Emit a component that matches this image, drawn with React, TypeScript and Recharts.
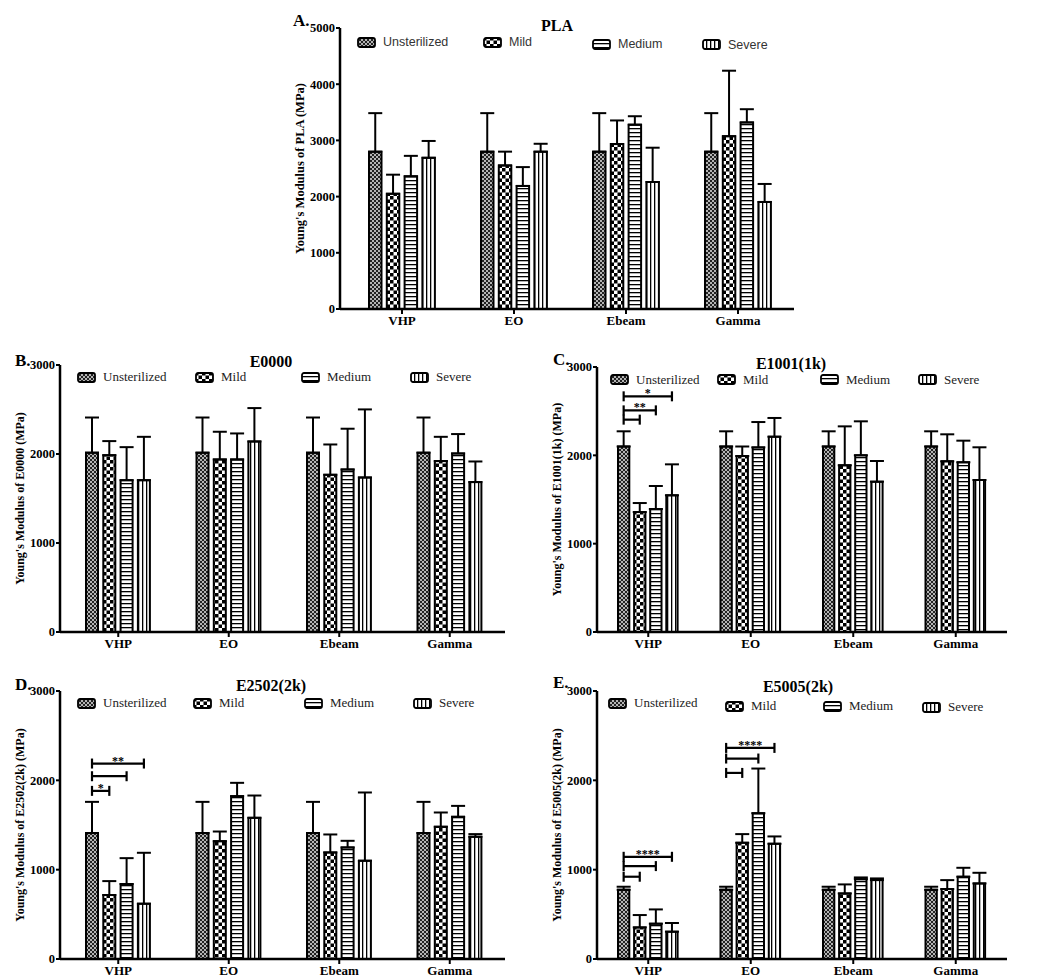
import React from "react";
import { BarChart, Bar, XAxis, YAxis, ErrorBar } from "recharts";

const CATEGORIES = ["VHP", "EO", "Ebeam", "Gamma"];
const SERIES = ["Unsterilized", "Mild", "Medium", "Severe"];
const PATTERNS = ["pat-unst", "pat-mild", "pat-med", "pat-sev"];

// mean values, one array per series (Unsterilized, Mild, Medium, Severe)
const PLA_MEANS = [
  [2800, 2800, 2800, 2800],
  [2050, 2555, 2935, 3075],
  [2360, 2190, 3280, 3320],
  [2690, 2800, 2260, 1905],
];
// upper error (SD), same order
const PLA_ERRS = [
  [685, 685, 685, 685],
  [340, 245, 420, 1165],
  [365, 335, 150, 235],
  [300, 140, 610, 320],
];

const E0000_MEANS = [
  [2015, 2015, 2015, 2015],
  [1987, 1939, 1766, 1920],
  [1706, 1939, 1826, 2006],
  [1706, 2141, 1736, 1684],
];
const E0000_ERRS = [
  [395, 395, 395, 395],
  [158, 311, 341, 273],
  [371, 292, 458, 218],
  [487, 375, 765, 232],
];

const E1001_MEANS = [
  [2100, 2100, 2100, 2100],
  [1358, 1992, 1887, 1932],
  [1392, 2090, 2000, 1921],
  [1547, 2211, 1702, 1721],
];
const E1001_ERRS = [
  [172, 172, 172, 172],
  [102, 108, 441, 306],
  [261, 287, 385, 245],
  [351, 212, 234, 370],
];

const E2502_MEANS = [
  [1410, 1410, 1410, 1410],
  [716, 1319, 1193, 1480],
  [839, 1823, 1249, 1591],
  [619, 1580, 1100, 1368],
];
const E2502_ERRS = [
  [349, 349, 349, 349],
  [156, 108, 201, 160],
  [290, 149, 74, 123],
  [570, 250, 764, 30],
];

const E5005_MEANS = [
  [775, 775, 775, 775],
  [354, 1301, 734, 783],
  [395, 1632, 894, 921],
  [306, 1290, 883, 846],
];
const E5005_ERRS = [
  [34, 34, 34, 34],
  [138, 97, 101, 100],
  [160, 500, 19, 100],
  [97, 82, 19, 119],
];

// significance brackets: category index, compared series index, height, stars
type Bracket = { cat: number; target: number; value: number; stars: string };
const E1001_BRACKETS: Bracket[] = [
  { cat: 0, target: 3, value: 2668, stars: "*" },
  { cat: 0, target: 2, value: 2509, stars: "**" },
  { cat: 0, target: 1, value: 2404, stars: "" },
];
const E2502_BRACKETS: Bracket[] = [
  { cat: 0, target: 3, value: 2188, stars: "**" },
  { cat: 0, target: 2, value: 2046, stars: "" },
  { cat: 0, target: 1, value: 1882, stars: "*" },
];
const E5005_BRACKETS: Bracket[] = [
  { cat: 0, target: 3, value: 1144, stars: "****" },
  { cat: 0, target: 2, value: 1040, stars: "" },
  { cat: 0, target: 1, value: 921, stars: "" },
  { cat: 1, target: 3, value: 2363, stars: "****" },
  { cat: 1, target: 2, value: 2244, stars: "" },
  { cat: 1, target: 1, value: 2083, stars: "" },
];

const TICKS_5000 = [0, 1000, 2000, 3000, 4000, 5000];
const TICKS_3000 = [0, 1000, 2000, 3000];

const SERIF = "'Liberation Serif', 'Times New Roman', serif";
const SANS = "'Liberation Sans', Arial, sans-serif";

const PANELS = [
  {
    letter: "A.", title: "PLA", yLabel: "Young's Modulus of PLA (MPa)",
    means: PLA_MEANS, errs: PLA_ERRS, brackets: [] as Bracket[],
    yMax: 5000, ticks: TICKS_5000,
    box: { left: 250, top: 0, width: 554, height: 340 },
    margin: { top: 28, right: 10, bottom: 1, left: 10 },
    padLeft: 6, barSize: 12.5, barGap: 5.3, yLabelSize: 12.5,
    titleAt: [557, 26], letterAt: [293, 21],
    legendX: [357, 483, 592, 702], legendY: [42, 42, 44, 44.5],
    legendFont: SANS, legendSize: 12.5, legendColor: "#333",
  },
  {
    letter: "B.", title: "E0000", yLabel: "Young's Modulus of E0000 (MPa)",
    means: E0000_MEANS, errs: E0000_ERRS, brackets: [] as Bracket[],
    yMax: 3000, ticks: TICKS_3000,
    box: { left: -30, top: 355, width: 545, height: 308 },
    margin: { top: 10, right: 10, bottom: 1, left: 10 },
    padLeft: 3, barSize: 12, barGap: 5.3, yLabelSize: 12,
    titleAt: [271, 362], letterAt: [15, 361],
    legendX: [77, 195, 301, 410], legendY: [377, 377, 377, 377],
    legendFont: SERIF, legendSize: 13, legendColor: "#222",
  },
  {
    letter: "C.", title: "E1001(1k)", yLabel: "Young's Modulus of E1001(1k) (MPa)",
    means: E1001_MEANS, errs: E1001_ERRS, brackets: E1001_BRACKETS,
    yMax: 3000, ticks: TICKS_3000,
    box: { left: 507, top: 357, width: 510, height: 306 },
    margin: { top: 10, right: 10, bottom: 1, left: 10 },
    padLeft: 0, barSize: 11.3, barGap: 4.8, yLabelSize: 12,
    titleAt: [791, 364], letterAt: [553, 360],
    legendX: [610, 717, 820, 918], legendY: [379.5, 379.5, 379.5, 379.5],
    legendFont: SERIF, legendSize: 13, legendColor: "#222",
  },
  {
    letter: "D.", title: "E2502(2k)", yLabel: "Young's Modulus of E2502(2k) (MPa)",
    means: E2502_MEANS, errs: E2502_ERRS, brackets: E2502_BRACKETS,
    yMax: 3000, ticks: TICKS_3000,
    box: { left: -30, top: 681, width: 545, height: 309 },
    margin: { top: 10, right: 10, bottom: 1, left: 10 },
    padLeft: 3, barSize: 12, barGap: 5.3, yLabelSize: 12,
    titleAt: [271, 686], letterAt: [15, 685],
    legendX: [77, 193, 304, 413], legendY: [703, 703, 703, 703],
    legendFont: SERIF, legendSize: 13, legendColor: "#222",
  },
  {
    letter: "E.", title: "E5005(2k)", yLabel: "Young's Modulus of E5005(2k) (MPa)",
    means: E5005_MEANS, errs: E5005_ERRS, brackets: E5005_BRACKETS,
    yMax: 3000, ticks: TICKS_3000,
    box: { left: 507, top: 681, width: 510, height: 309 },
    margin: { top: 10, right: 10, bottom: 1, left: 10 },
    padLeft: 0, barSize: 11.3, barGap: 4.8, yLabelSize: 12,
    titleAt: [798, 687], letterAt: [553, 683],
    legendX: [608, 725, 823, 922], legendY: [703, 706, 706, 707],
    legendFont: SERIF, legendSize: 13, legendColor: "#222",
  },
];

type PanelDef = (typeof PANELS)[number];

function PatternDefs() {
  return (
    <svg width={0} height={0} style={{ position: "absolute" }}>
      <defs>
        <pattern id="pat-unst" patternUnits="userSpaceOnUse" width={4} height={4}>
          <rect width={4} height={4} fill="#b4b4b4" />
          <rect width={2} height={2} fill="#222" />
          <rect x={2} y={2} width={2} height={2} fill="#222" />
        </pattern>
        <pattern id="pat-mild" patternUnits="userSpaceOnUse" width={7} height={7}>
          <rect width={7} height={7} fill="#fff" />
          <rect width={3.5} height={3.5} fill="#000" />
          <rect x={3.5} y={3.5} width={3.5} height={3.5} fill="#000" />
        </pattern>
        <pattern id="pat-med" patternUnits="userSpaceOnUse" width={4} height={4}>
          <rect width={4} height={4} fill="#fff" />
          <rect width={4} height={1.3} fill="#000" />
        </pattern>
        <pattern id="pat-sev" patternUnits="userSpaceOnUse" width={4} height={4}>
          <rect width={4} height={4} fill="#fff" />
          <rect width={1.3} height={4} fill="#000" />
        </pattern>
      </defs>
    </svg>
  );
}

function makeBracketLabel(p: PanelDef) {
  return (props: any) => {
    const vb = props.viewBox ?? props;
    const idx = props.index;
    const list = p.brackets.filter((b) => b.cat === idx);
    if (!list.length || !vb) return null;
    const mean = p.means[0][idx];
    const perUnit = vb.height / mean;
    const base = vb.y + vb.height;
    const x0 = vb.x + vb.width / 2;
    const pitch = p.barSize + p.barGap;
    return (
      <g>
        {list.map((b, i) => {
          const y = base - b.value * perUnit;
          const x1 = x0 + b.target * pitch;
          return (
            <g key={i} stroke="#000" strokeWidth={2.2}>
              <line x1={x0} y1={y} x2={x1} y2={y} />
              <line x1={x0} y1={y - 5} x2={x0} y2={y + 5} />
              <line x1={x1} y1={y - 5} x2={x1} y2={y + 5} />
              {b.stars && (
                <text
                  x={(x0 + x1) / 2}
                  y={y + 1}
                  textAnchor="middle"
                  stroke="none"
                  fill="#000"
                  fontSize={12}
                  fontWeight="bold"
                  fontFamily={SERIF}
                >
                  {b.stars}
                </text>
              )}
            </g>
          );
        })}
      </g>
    );
  };
}

function Panel({ p }: { p: PanelDef }) {
  const rows = CATEGORIES.map((name, i) => {
    const row: any = { name };
    p.means.forEach((m, k) => {
      row[`s${k}`] = m[i];
      row[`e${k}`] = [0, p.errs[k][i]];
    });
    return row;
  });
  const bracketLabel = p.brackets.length ? makeBracketLabel(p) : false;

  return (
    <>
      <div style={{ position: "absolute", left: p.box.left, top: p.box.top }}>
        <BarChart
          width={p.box.width}
          height={p.box.height}
          data={rows}
          margin={p.margin}
          barSize={p.barSize}
          barGap={p.barGap}
        >
          <XAxis
            dataKey="name"
            interval={0}
            height={30}
            padding={{ left: p.padLeft, right: 0 }}
            axisLine={{ stroke: "#000", strokeWidth: 2.5 }}
            tickLine={{ stroke: "#000", strokeWidth: 2 }}
            tickSize={5}
            tickMargin={2}
            tick={{ fill: "#000", fontFamily: SERIF, fontWeight: "bold", fontSize: 13 }}
          />
          <YAxis
            domain={[0, p.yMax]}
            ticks={p.ticks}
            interval={0}
            width={80}
            axisLine={{ stroke: "#000", strokeWidth: 2.5 }}
            tickLine={{ stroke: "#000", strokeWidth: 2 }}
            tickSize={4}
            tickMargin={1}
            tick={{ fill: "#000", fontFamily: SERIF, fontWeight: "bold", fontSize: 12.5 }}
            label={{
              value: p.yLabel,
              angle: -90,
              position: "center",
              fill: "#000",
              fontFamily: SERIF,
              fontWeight: "bold",
              fontSize: p.yLabelSize,
            }}
          />
          {SERIES.map((s, k) => (
            <Bar
              key={s}
              dataKey={`s${k}`}
              name={s}
              fill={`url(#${PATTERNS[k]})`}
              stroke="#000"
              strokeWidth={2}
              isAnimationActive={false}
              label={k === 0 ? bracketLabel : false}
            >
              <ErrorBar
                dataKey={`e${k}`}
                direction="y"
                width={7}
                stroke="#000"
                strokeWidth={2}
                isAnimationActive={false}
              />
            </Bar>
          ))}
        </BarChart>
      </div>

      <div
        style={{
          position: "absolute",
          left: p.letterAt[0],
          top: p.letterAt[1] - 8,
          lineHeight: "16px",
          fontFamily: SERIF,
          fontWeight: "bold",
          fontSize: 17,
        }}
      >
        {p.letter}
      </div>
      <div
        style={{
          position: "absolute",
          left: p.titleAt[0] - 100,
          width: 200,
          top: p.titleAt[1] - 7,
          lineHeight: "14px",
          textAlign: "center",
          fontFamily: SERIF,
          fontWeight: "bold",
          fontSize: 16,
        }}
      >
        {p.title}
      </div>

      {/* Legend */}
      {SERIES.map((s, k) => (
        <div
          key={s}
          style={{
            position: "absolute",
            left: p.legendX[k],
            top: p.legendY[k] - 6,
            height: 12,
            lineHeight: "12px",
            display: "flex",
            alignItems: "center",
            gap: 7,
            fontFamily: p.legendFont,
            fontSize: p.legendSize,
            color: p.legendColor,
            whiteSpace: "nowrap",
          }}
        >
          <svg width={19} height={11}>
            <rect
              x={1}
              y={1}
              width={17}
              height={9}
              rx={2}
              fill={`url(#${PATTERNS[k]})`}
              stroke="#000"
              strokeWidth={1.8}
            />
          </svg>
          <span>{s}</span>
        </div>
      ))}
    </>
  );
}

export default function App() {
  return (
    <div
      style={{
        position: "absolute",
        left: 0,
        top: 0,
        width: 1050,
        height: 979,
        overflow: "hidden",
        background: "#fff",
      }}
    >
      <PatternDefs />
      {PANELS.map((p) => (
        <Panel key={p.letter} p={p} />
      ))}
    </div>
  );
}
